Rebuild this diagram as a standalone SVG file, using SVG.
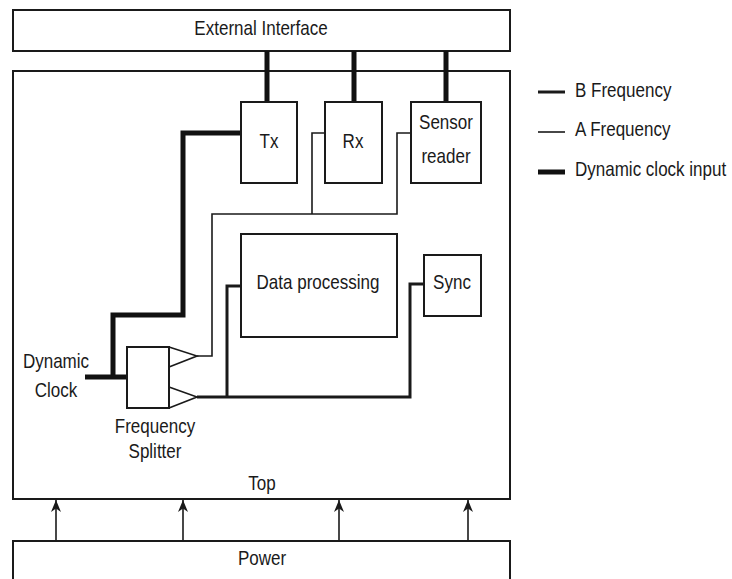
<svg xmlns="http://www.w3.org/2000/svg" width="732" height="579" viewBox="0 0 732 579">
<style>
.box{fill:#fff;stroke:#1a1a1a;stroke-width:2}
.t{font-family:"Liberation Sans",Arial,sans-serif;font-size:20.5px;fill:#1a1a1a;text-anchor:middle}
.tl{font-family:"Liberation Sans",Arial,sans-serif;font-size:20.5px;fill:#1a1a1a}
.thick{fill:none;stroke:#111;stroke-width:5}
.bf{fill:none;stroke:#1a1a1a;stroke-width:3}
.af{fill:none;stroke:#1a1a1a;stroke-width:1.6}
.pw{fill:none;stroke:#1a1a1a;stroke-width:1.6}
</style>
<defs>
<marker id="arr" viewBox="0 0 12 12" refX="12" refY="6" markerWidth="12" markerHeight="12" markerUnits="userSpaceOnUse" orient="auto">
<path d="M0,1 L12,6 L0,11 L3.5,6 Z" fill="#1a1a1a"/>
</marker>
</defs>
<rect width="732" height="579" fill="#fff"/>

<g id="top">
<rect class="box" x="13" y="71" width="497" height="428"/>
<text class="t" transform="translate(262,490) scale(0.83,1)">Top</text>
</g>
<g id="external-interface">
<rect class="box" x="13" y="10" width="497" height="41"/>
<text class="t" transform="translate(261,35) scale(0.83,1)">External Interface</text>
</g>
<g id="power">
<rect class="box" x="13" y="541" width="497" height="50"/>
<text class="t" transform="translate(262,565) scale(0.83,1)">Power</text>
</g>

<g id="connectors">
<path class="thick" d="M267,51 V102 M354,51 V102 M446,51 V102"/>
<path class="thick" d="M241,133 H183 V315 H113 V377"/>
<path class="thick" d="M85,377 H127"/>
<path class="af" d="M325,133 H312 V214"/>
<path class="af" d="M411,133 H397 V214 H212 V356 H197"/>
<path class="bf" d="M197,397 H410 V284 H424"/>
<path class="bf" d="M227,397 V286 H241"/>
<path class="pw" marker-end="url(#arr)" d="M56,541 V500"/>
<path class="pw" marker-end="url(#arr)" d="M183,541 V500"/>
<path class="pw" marker-end="url(#arr)" d="M339,541 V500"/>
<path class="pw" marker-end="url(#arr)" d="M468,541 V500"/>
</g>

<g id="tx">
<rect class="box" x="241" y="102" width="56" height="81"/>
<text class="t" transform="translate(269,148) scale(0.83,1)">Tx</text>
</g>
<g id="rx">
<rect class="box" x="325" y="102" width="57" height="81"/>
<text class="t" transform="translate(353,148) scale(0.83,1)">Rx</text>
</g>
<g id="sensor-reader">
<rect class="box" x="411" y="102" width="70" height="81"/>
<text class="t" transform="translate(446,129) scale(0.83,1)">Sensor</text>
<text class="t" transform="translate(446,163) scale(0.83,1)">reader</text>
</g>
<g id="data-processing">
<rect class="box" x="241" y="234" width="156" height="103"/>
<text class="t" transform="translate(318,289) scale(0.83,1)">Data processing</text>
</g>
<g id="sync">
<rect class="box" x="424" y="255" width="57" height="61"/>
<text class="t" transform="translate(452,289) scale(0.83,1)">Sync</text>
</g>
<g id="frequency-splitter">
<rect class="box" x="127" y="347" width="42" height="61"/>
<path class="af" d="M169,347 L197,356 L169,367 M169,387 L197,397 L169,408"/>
<text class="t" transform="translate(155,433) scale(0.83,1)">Frequency</text>
<text class="t" transform="translate(155,458) scale(0.83,1)">Splitter</text>
</g>
<g id="dynamic-clock">
<text class="t" transform="translate(56,368) scale(0.83,1)">Dynamic</text>
<text class="t" transform="translate(56,397) scale(0.83,1)">Clock</text>
</g>

<g id="legend">
<line class="bf" x1="538" y1="92" x2="565" y2="92"/>
<text class="tl" transform="translate(575,97) scale(0.83,1)">B Frequency</text>
<line class="af" x1="538" y1="132" x2="565" y2="132"/>
<text class="tl" transform="translate(575,136) scale(0.83,1)">A Frequency</text>
<line class="thick" x1="538" y1="172" x2="565" y2="172"/>
<text class="tl" transform="translate(575,176) scale(0.83,1)">Dynamic clock input</text>
</g>
</svg>
